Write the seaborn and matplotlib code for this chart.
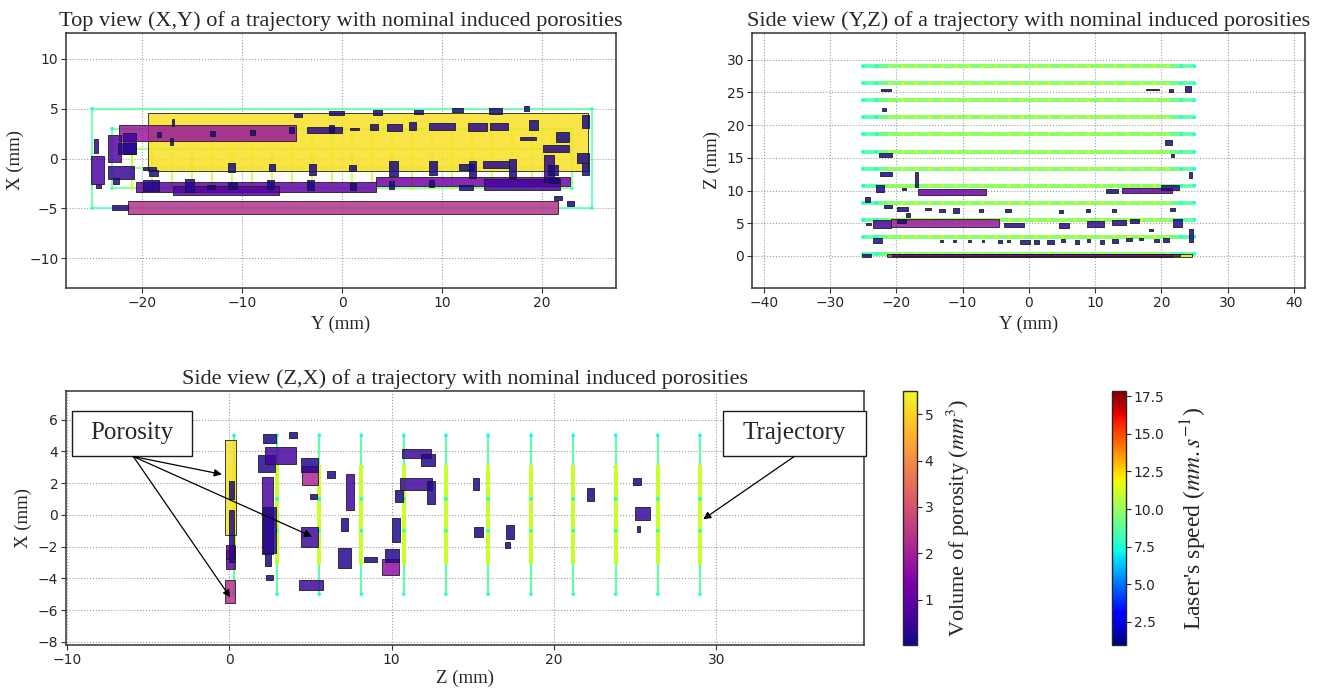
import matplotlib
matplotlib.use("Agg")
import matplotlib.pyplot as plt
import seaborn as sns
import pandas as pd
from matplotlib.collections import LineCollection, PatchCollection
from matplotlib.patches import Rectangle
from matplotlib.colors import Normalize
from matplotlib.cm import ScalarMappable

# layer heights (mm) of the deposition path
layer_z = [0.3, 2.95, 5.55, 8.15, 10.75, 13.35, 15.95, 18.6, 21.2, 23.8, 26.4, 29.0]

# path of one layer, (X, Y) in mm
outer_x = [5.0, 5.0, -5.0, -5.0, 5.0]
outer_y = [-25.0, 25.0, 25.0, -25.0, -25.0]
inner_x = [3.0, 3.0, -3.0, -3.0, 3.0]
inner_y = [-23.0, 23.0, 23.0, -23.0, -23.0]
core_x = [1.0, 1.0, -1.0, -1.0, 1.0]
core_y = [-21.0, 21.0, 21.0, -21.0, -21.0]
infill_y = [-21, -19, -17, -15, -13, -11, -9, -7, -5, -3, -1,
            1, 3, 5, 7, 9, 11, 13, 15, 17, 19, 21]
infill_x = [-3.0, 3.0]

# laser speed (mm/s)
outer_speed = 8.6
inner_speed = 9.2
core_speed = 9.8
infill_speed = 11.0
corner_speed = 7.5

# porosities seen in each view: (h0, h1, v0, v1, volume mm^3)
top_pores = [  # Y, X
    (-19.4, 24.6, -1.3, 4.6, 5.2),
    (-21.4, 21.6, -5.55, -4.25, 2.3),
    (-22.3, -4.6, 1.8, 3.4, 1.8),
    (-20.6, 3.4, -3.4, -2.35, 1.0),
    (3.4, 22.8, -2.8, -1.9, 1.2),
    (14.2, 21.8, -3.2, -2.1, 0.6),
    (-16.9, -6.3, -3.7, -2.8, 0.8),
    (-25.1, -23.8, -2.6, 0.3, 0.7),
    (-23.4, -22.1, -0.4, 2.4, 0.8),
    (-21.9, -20.6, 0.5, 2.6, 0.5),
    (-22.4, -20.6, 0.5, 1.6, 0.2),
    (-24.8, -24.4, 0.6, 2.0, 0.3),
    (-24.6, -24.1, -3.0, -2.6, 0.2),
    (-23.4, -20.8, -2.1, -0.8, 0.4),
    (-22.9, -22.3, -2.6, -2.0, 0.2),
    (-19.9, -18.6, -1.2, -0.9, 0.1),
    (-19.3, -18.4, -1.8, -1.2, 0.1),
    (-17.0, -16.8, 3.3, 4.0, 0.1),
    (-17.2, -16.9, 1.4, 2.1, 0.1),
    (-18.5, -18.1, 2.2, 2.7, 0.1),
    (-13.2, -12.7, 2.3, 2.8, 0.1),
    (-9.2, -8.7, 2.4, 2.9, 0.1),
    (-5.3, -4.8, 2.6, 3.2, 0.1),
    (-4.8, -4.0, 4.2, 4.6, 0.1),
    (-1.3, 0.2, 4.4, 4.8, 0.1),
    (-3.5, 0.0, 2.6, 3.2, 0.3),
    (-1.3, -0.8, 2.6, 3.4, 0.1),
    (-11.4, -10.7, -1.4, -0.5, 0.1),
    (-7.3, -6.7, -1.3, -0.6, 0.1),
    (-3.3, -2.6, -1.7, -0.6, 0.1),
    (-19.9, -18.3, -3.3, -2.2, 0.2),
    (-15.7, -14.8, -3.4, -2.1, 0.2),
    (-13.5, -12.7, -3.1, -2.7, 0.1),
    (-11.4, -10.5, -3.1, -2.4, 0.1),
    (-7.5, -6.8, -3.1, -2.2, 0.1),
    (-3.5, -2.8, -3.2, -2.2, 0.1),
    (-23.0, -21.4, -5.2, -4.7, 0.2),
    (3.1, 4.0, 4.35, 4.85, 0.1),
    (7.2, 8.1, 4.5, 4.85, 0.1),
    (11.0, 12.1, 4.7, 5.1, 0.1),
    (14.7, 16.0, 4.5, 5.1, 0.1),
    (18.2, 18.7, 4.75, 5.25, 0.1),
    (0.8, 1.7, 2.85, 3.1, 0.1),
    (2.8, 3.6, 2.85, 3.5, 0.1),
    (4.5, 6.0, 2.75, 3.5, 0.2),
    (6.7, 7.4, 2.85, 3.7, 0.1),
    (8.7, 11.3, 2.85, 3.6, 0.3),
    (12.6, 14.5, 2.75, 3.6, 0.3),
    (14.8, 16.6, 2.9, 3.6, 0.2),
    (18.7, 19.6, 2.85, 3.9, 0.1),
    (17.8, 19.4, 1.85, 2.2, 0.1),
    (24.0, 24.7, 3.1, 4.35, 0.1),
    (21.4, 22.7, 1.7, 2.7, 0.1),
    (20.1, 22.7, 0.7, 1.4, 0.2),
    (23.5, 24.7, -0.5, 0.6, 0.1),
    (24.0, 24.7, -1.65, -0.5, 0.1),
    (20.2, 21.2, -2.4, 0.35, 0.3),
    (20.6, 21.6, -1.65, -0.65, 0.1),
    (0.67, 1.4, -1.3, -0.65, 0.1),
    (4.7, 5.6, -1.75, -0.3, 0.1),
    (8.7, 9.5, -1.65, -0.25, 0.1),
    (11.7, 13.2, -1.15, -0.6, 0.1),
    (12.7, 13.4, -2.0, -0.25, 0.1),
    (14.1, 16.7, -1.0, -0.3, 0.2),
    (16.7, 17.4, -2.0, 0.0, 0.1),
    (0.8, 1.4, -3.15, -2.5, 0.1),
    (4.7, 5.2, -3.1, -2.3, 0.1),
    (8.7, 9.2, -2.9, -2.15, 0.1),
    (11.7, 13.1, -3.15, -2.65, 0.1),
    (21.2, 22.0, -4.15, -3.8, 0.1),
    (22.5, 23.2, -4.8, -4.25, 0.1),
    (20.7, 21.7, -2.5, -2.0, 0.1),
]

side_yz_pores = [  # Y, Z
    (-19.4, 24.6, -0.1, 0.35, 5.2),
    (-21.4, 21.6, -0.1, 0.3, 2.3),
    (-20.6, 3.4, -0.05, 0.3, 1.0),
    (3.4, 22.8, -0.05, 0.3, 1.2),
    (-25.2, -23.8, -0.2, 0.35, 0.3),
    (-20.8, -4.5, 4.5, 5.6, 1.8),
    (-16.8, -6.5, 9.3, 10.3, 1.1),
    (14.0, 21.6, 9.7, 10.4, 1.0),
    (-22.3, -20.8, 25.2, 25.5, 0.1),
    (-22.2, -21.6, 22.2, 22.7, 0.1),
    (-22.6, -20.7, 15.2, 15.7, 0.1),
    (-22.5, -20.6, 12.2, 12.8, 0.1),
    (-17.2, -16.8, 10.6, 12.8, 0.1),
    (-23.1, -21.8, 9.8, 10.8, 0.1),
    (-19.2, -18.5, 10.1, 10.4, 0.1),
    (11.6, 13.5, 9.7, 10.3, 0.1),
    (20.0, 22.7, 10.1, 10.8, 0.2),
    (24.1, 24.7, 11.9, 12.8, 0.1),
    (20.6, 21.6, 17.0, 17.7, 0.1),
    (21.4, 21.9, 15.1, 15.6, 0.1),
    (17.7, 19.6, 25.4, 25.6, 0.1),
    (21.1, 21.8, 25.1, 25.5, 0.1),
    (23.5, 24.5, 25.0, 26.0, 0.1),
    (-24.8, -24.0, 8.2, 9.0, 0.1),
    (-21.9, -20.6, 7.3, 7.8, 0.1),
    (-19.9, -18.3, 6.9, 7.5, 0.1),
    (-18.6, -18.0, 6.0, 6.6, 0.1),
    (-15.7, -14.8, 7.0, 7.4, 0.1),
    (-13.5, -12.7, 6.7, 7.2, 0.1),
    (-11.5, -10.5, 6.6, 7.3, 0.1),
    (-7.6, -6.9, 6.7, 7.2, 0.1),
    (-3.6, -2.7, 6.7, 7.2, 0.1),
    (4.6, 5.2, 6.6, 7.0, 0.1),
    (8.6, 9.2, 6.7, 7.2, 0.1),
    (12.5, 13.2, 6.8, 7.2, 0.1),
    (21.3, 22.0, 6.9, 7.4, 0.1),
    (-24.6, -23.8, 4.7, 5.1, 0.1),
    (-23.5, -20.8, 4.3, 5.5, 0.6),
    (-19.9, -18.6, 5.1, 5.6, 0.1),
    (-3.7, -0.7, 4.5, 5.1, 0.2),
    (4.6, 6.0, 4.3, 5.1, 0.2),
    (8.7, 11.3, 4.5, 5.4, 0.3),
    (12.5, 14.6, 4.7, 5.5, 0.3),
    (15.2, 16.6, 5.1, 5.7, 0.2),
    (21.8, 23.1, 4.4, 5.7, 0.2),
    (18.2, 18.7, 3.8, 4.1, 0.1),
    (24.1, 24.8, 2.1, 4.2, 0.1),
    (-23.6, -22.2, 2.0, 2.8, 0.2),
    (-13.4, -13.0, 2.2, 2.5, 0.1),
    (-11.4, -11.0, 2.2, 2.5, 0.1),
    (-9.2, -8.8, 2.1, 2.4, 0.1),
    (-7.1, -6.7, 2.2, 2.5, 0.1),
    (-4.7, -4.0, 2.0, 2.5, 0.1),
    (-3.3, -2.9, 2.1, 2.5, 0.1),
    (-1.4, 0.1, 1.8, 2.4, 0.2),
    (0.8, 1.5, 1.9, 2.4, 0.1),
    (2.7, 3.8, 1.9, 2.4, 0.1),
    (4.8, 5.5, 2.1, 2.6, 0.1),
    (6.9, 7.5, 1.9, 2.4, 0.1),
    (8.7, 9.2, 2.2, 2.6, 0.1),
    (10.7, 11.3, 1.9, 2.4, 0.1),
    (12.6, 13.4, 2.0, 2.6, 0.1),
    (14.7, 15.5, 2.3, 2.7, 0.1),
    (16.6, 17.3, 2.4, 2.7, 0.1),
    (18.9, 19.6, 2.2, 2.6, 0.1),
    (20.3, 21.2, 2.1, 2.7, 0.1),
]

side_zx_pores = [  # Z, X
    (-0.24, 0.42, -1.3, 4.7, 5.2),
    (-0.24, 0.35, -5.55, -4.1, 2.3),
    (-0.2, 0.35, -3.4, -2.2, 1.0),
    (-0.2, 0.35, -2.8, -1.9, 1.2),
    (4.5, 5.5, 1.9, 3.1, 2.1),
    (9.4, 10.45, -3.8, -2.8, 1.65),
    (0.0, 0.3, 1.0, 2.1, 0.1),
    (0.0, 0.3, -3.0, 0.3, 0.2),
    (2.1, 2.9, 4.5, 5.1, 0.1),
    (1.8, 2.8, 2.7, 3.75, 0.2),
    (2.0, 2.7, -2.45, 2.4, 0.7),
    (2.1, 2.9, -2.4, 0.5, 0.2),
    (2.2, 2.6, -3.25, -2.4, 0.1),
    (2.3, 2.7, -4.1, -3.8, 0.1),
    (2.2, 4.1, 3.2, 4.3, 0.6),
    (3.7, 4.15, 4.85, 5.2, 0.1),
    (4.4, 5.5, 2.7, 3.6, 0.2),
    (4.95, 5.4, 1.0, 1.3, 0.1),
    (4.4, 5.5, -2.0, -0.75, 0.5),
    (4.3, 5.8, -4.75, -4.1, 0.5),
    (6.05, 6.5, 2.3, 2.75, 0.1),
    (7.2, 7.7, 0.3, 2.6, 0.5),
    (6.9, 7.3, -1.05, -0.2, 0.1),
    (6.7, 7.5, -3.35, -2.1, 0.2),
    (8.3, 9.1, -3.0, -2.65, 0.1),
    (9.6, 10.45, -3.0, -2.15, 0.2),
    (10.0, 10.55, -1.7, -0.2, 0.2),
    (10.2, 10.7, 0.8, 1.55, 0.1),
    (10.55, 12.5, 1.55, 2.3, 0.5),
    (12.2, 12.7, 0.7, 2.1, 0.2),
    (10.65, 12.45, 3.55, 4.15, 0.5),
    (11.8, 12.7, 3.1, 3.85, 0.2),
    (15.0, 15.4, 1.55, 2.3, 0.1),
    (15.1, 15.65, -1.4, -0.75, 0.1),
    (17.05, 17.55, -1.5, -0.65, 0.1),
    (17.0, 17.3, -2.1, -1.7, 0.1),
    (22.05, 22.5, 0.85, 1.7, 0.1),
    (24.85, 25.35, 1.9, 2.3, 0.1),
    (25.0, 25.9, -0.3, 0.5, 0.4),
    (25.1, 25.3, -1.1, -0.7, 0.1),
]

speed_norm = Normalize(0.97, 17.85)
vol_norm = Normalize(0.02, 5.5)
jet = plt.get_cmap("jet")
plasma = plt.get_cmap("plasma")

sns.set_style("whitegrid", {"grid.linestyle": ":", "grid.color": "0.62",
                            "axes.edgecolor": "0.15", "xtick.bottom": True,
                            "ytick.left": True})
plt.rcParams["font.family"] = ["DejaVu Sans"]
plt.rcParams["mathtext.fontset"] = "stix"
plt.rcParams["xtick.labelsize"] = 10
plt.rcParams["ytick.labelsize"] = 10
SERIF = "Liberation Serif"


def layer_lines():
    lines = [(outer_x, outer_y, outer_speed), (inner_x, inner_y, inner_speed),
             (core_x, core_y, core_speed)]
    for y in infill_y:
        lines.append((infill_x, [y] * len(infill_x), infill_speed))
    return lines


def trajectory(view):
    # returns segments, segment speeds, infill flags and a table of path vertices
    segs, speeds, fill, pts = [], [], [], []
    zs = layer_z[:1] if view == "xy" else layer_z
    for z in zs:
        for xs, ys, sp in layer_lines():
            coords = []
            for x, y in zip(xs, ys):
                if view == "xy":
                    coords.append((y, x))
                elif view == "yz":
                    coords.append((y, z))
                else:
                    coords.append((z, x))
            for a, b in zip(coords[:-1], coords[1:]):
                segs.append([a, b])
                speeds.append(sp)
                fill.append(xs is infill_x)
            v_sp = sp if xs is infill_x else corner_speed
            for h, v in coords:
                pts.append((h, v, v_sp))
    return segs, speeds, fill, pd.DataFrame(pts, columns=["h", "v", "speed"])


def draw_view(ax, view, pores, lw, fill_lw):
    segs, speeds, fill, pts = trajectory(view)
    lc = LineCollection(segs, cmap=jet, norm=speed_norm,
                        linewidths=[fill_lw if f else lw for f in fill],
                        alpha=0.75, capstyle="round", zorder=1)
    lc.set_array(speeds)
    ax.add_collection(lc)
    sns.scatterplot(data=pts, x="h", y="v", hue="speed", palette=jet,
                    hue_norm=speed_norm, s=6, linewidth=0, alpha=0.8,
                    legend=False, ax=ax, zorder=1.5)
    rects = [Rectangle((h0, v0), h1 - h0, v1 - v0) for h0, h1, v0, v1, _ in pores]
    pc = PatchCollection(rects, cmap=plasma, norm=vol_norm, alpha=0.84,
                         edgecolor=(0.1, 0.1, 0.1), linewidth=0.7, zorder=2)
    pc.set_array([p[4] for p in pores])
    ax.add_collection(pc)
    ax.set_xlabel("")
    ax.set_ylabel("")
    ax.tick_params(direction="out", length=3.5, width=0.8, color="0.2", pad=2)
    for s in ax.spines.values():
        s.set_linewidth(1.1)
        s.set_color("0.2")


fig = plt.figure(figsize=(13.2, 6.93), dpi=100)

ax1 = fig.add_axes([0.05, 0.5844, 0.4167, 0.368])
draw_view(ax1, "xy", top_pores, 1.6, 1.6)
ax1.set_xlim(-27.6, 27.4)
ax1.set_ylim(-13.0, 12.6)
ax1.set_xticks([-20, -10, 0, 10, 20])
ax1.set_yticks([-10, -5, 0, 5, 10])
ax1.set_title("Top view (X,Y) of a trajectory with nominal induced porosities",
              fontsize=16, fontfamily=SERIF, pad=5)
ax1.set_xlabel("Y (mm)", fontsize=13.5, fontfamily=SERIF)
ax1.set_ylabel("X (mm)", fontsize=13.5, fontfamily=SERIF)

ax2 = fig.add_axes([0.5697, 0.5844, 0.419, 0.368])
draw_view(ax2, "yz", side_yz_pores, 2.6, 3.0)
ax2.set_xlim(-41.8, 41.7)
ax2.set_ylim(-4.9, 34.1)
ax2.set_xticks(range(-40, 41, 10))
ax2.set_yticks(range(0, 31, 5))
ax2.set_title("Side view (Y,Z) of a trajectory with nominal induced porosities",
              fontsize=16, fontfamily=SERIF, pad=5)
ax2.set_xlabel("Y (mm)", fontsize=13.5, fontfamily=SERIF)
ax2.set_ylabel("Z (mm)", fontsize=13.5, fontfamily=SERIF)

ax3 = fig.add_axes([0.05, 0.0693, 0.6045, 0.3665])
draw_view(ax3, "zx", side_zx_pores, 1.5, 2.8)
ax3.set_xlim(-10.05, 39.1)
ax3.set_ylim(-8.2, 7.8)
ax3.set_xticks([-10, 0, 10, 20, 30])
ax3.set_yticks(range(-8, 7, 2))
ax3.set_title("Side view (Z,X) of a trajectory with nominal induced porosities",
              fontsize=16, fontfamily=SERIF, pad=5)
ax3.set_xlabel("Z (mm)", fontsize=13.5, fontfamily=SERIF, labelpad=2)
ax3.set_ylabel("X (mm)", fontsize=13.5, fontfamily=SERIF)

# callouts
ax3.add_patch(Rectangle((-9.7, 3.7), 7.4, 2.87, facecolor="white",
                        edgecolor="0.1", linewidth=1.0, zorder=5, clip_on=False))
ax3.text(-6.0, 5.13, "Porosity", fontsize=18, fontfamily=SERIF,
         ha="center", va="center", zorder=6)
ax3.add_patch(Rectangle((30.4, 3.7), 8.85, 2.87, facecolor="white",
                        edgecolor="0.1", linewidth=1.0, zorder=5, clip_on=False))
ax3.text(34.8, 5.13, "Trajectory", fontsize=18, fontfamily=SERIF,
         ha="center", va="center", zorder=6)
arrow = dict(arrowstyle="-|>", color="k", lw=0.9, shrinkA=0, shrinkB=0,
             mutation_scale=11)
for target in [(-0.45, 2.55), (5.1, -1.37), (0.07, -5.2)]:
    ax3.annotate("", xy=target, xytext=(-5.9, 3.67), arrowprops=arrow, zorder=7)
ax3.annotate("", xy=(29.2, -0.28), xytext=(34.8, 3.67), arrowprops=arrow, zorder=7)

# colour bars
cax1 = fig.add_axes([0.684, 0.0693, 0.0106, 0.3665])
cb1 = fig.colorbar(ScalarMappable(norm=vol_norm, cmap=plasma), cax=cax1)
cb1.set_ticks([1, 2, 3, 4, 5])
cb1.set_label("Volume of porosity ($mm^3$)", fontsize=16, fontfamily=SERIF,
              labelpad=8)
cax2 = fig.add_axes([0.8424, 0.0693, 0.0106, 0.3665])
cb2 = fig.colorbar(ScalarMappable(norm=speed_norm, cmap=jet), cax=cax2)
cb2.set_ticks([2.5, 5.0, 7.5, 10.0, 12.5, 15.0, 17.5])
cb2.set_label("Laser's speed ($mm.s^{-1}$)", fontsize=17, fontfamily=SERIF,
              labelpad=10)
for cb in (cb1, cb2):
    cb.outline.set_edgecolor("0.15")
    cb.outline.set_linewidth(1.0)
    cb.ax.tick_params(labelsize=10, length=3.5, pad=2)

fig.savefig("out.png", dpi=100)
